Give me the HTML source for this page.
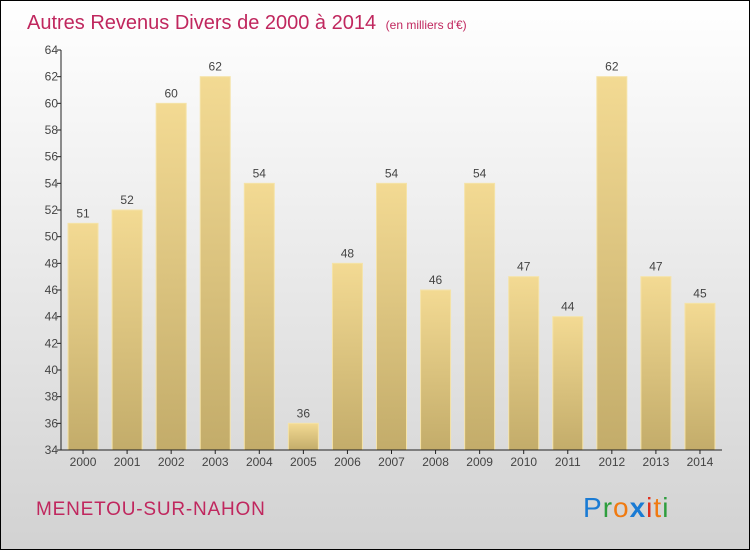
<!DOCTYPE html>
<html><head><meta charset="utf-8"><style>
body{margin:0}
#wrap{width:748px;height:548px;border:1px solid #000;background:linear-gradient(#ffffff,#f2f2f2 30%,#d2d2d2);position:relative;overflow:hidden;font-family:"Liberation Sans",sans-serif}
</style></head><body>
<div id="wrap">
<svg id="chart" width="748" height="548">
<defs>
<linearGradient id="bg" x1="0" y1="0" x2="0" y2="1"><stop offset="0" stop-color="#f3da93"/><stop offset="1" stop-color="#c3ac6a"/></linearGradient>
</defs>
<text x="26" y="28" font-size="20" fill="#c0275e">Autres Revenus Divers de 2000 à 2014 <tspan font-size="12" dx="4">(en milliers d'€)</tspan></text>
<text x="35" y="514" font-size="19" letter-spacing="0.8" fill="#c0275e">MENETOU-SUR-NAHON</text>
<g font-size="28" font-family="'Liberation Sans',sans-serif">
<text x="582" y="516" letter-spacing="1"><tspan fill="#1a7bd4">P</tspan><tspan fill="#2e9e3e">r</tspan><tspan fill="#f07a10">o</tspan><tspan fill="#1a7bd4" font-weight="bold">x</tspan><tspan fill="#e03020">i</tspan><tspan fill="#f07a10">t</tspan><tspan fill="#2e9e3e">i</tspan></text>
</g>
<g id="plot"></g>
</svg>
</div>
<script>
const categories=["2000","2001","2002","2003","2004","2005","2006","2007","2008","2009","2010","2011","2012","2013","2014"];
const values=[51,52,60,62,54,36,48,54,46,54,47,44,62,47,45];
const yTicks=[34,36,38,40,42,44,46,48,50,52,54,56,58,60,62,64];
const X0=60,X1=721,Y0=449,Y1=49,ymin=34,ymax=64;
const band=(X1-X0)/categories.length;
const xc=i=>X0+band*(i+0.5);
const y=v=>Y0-(v-ymin)/(ymax-ymin)*(Y0-Y1);
const g=document.getElementById('plot');
const NS="http://www.w3.org/2000/svg";
function mk(t,a){const e=document.createElementNS(NS,t);for(const k in a)e.setAttribute(k,a[k]);g.appendChild(e);return e;}
values.forEach((v,i)=>{
 const r=mk('rect',{x:xc(i)-15,y:y(v),width:30,height:Y0-y(v),fill:'url(#bg)',stroke:'#f5e3a8','stroke-width':1});
 
 
 const t=mk('text',{x:xc(i),y:y(v)-6,'text-anchor':'middle','font-size':12,fill:'#444'});
 t.textContent=v;
 
 
 const c=mk('text',{x:xc(i),y:Y0+16,'text-anchor':'middle','font-size':12,fill:'#444'});
 c.textContent=categories[i];
 
 
 const tk=mk('line',{x1:xc(i),x2:xc(i),y1:Y0,y2:Y0+4,stroke:'#222'});
 
 
});
yTicks.forEach(v=>{
 const l=mk('line',{x1:X0-4,x2:X0,y1:y(v),y2:y(v),stroke:'#222'});
 
 
 const t=mk('text',{x:X0-3,y:y(v)+4,'text-anchor':'end','font-size':12,fill:'#444'});
 t.textContent=v;
 
 
});
const ya=mk('line',{x1:X0,x2:X0,y1:Y1,y2:Y0,stroke:'#222'});


const xa=mk('line',{x1:X0,x2:X1,y1:Y0,y2:Y0,stroke:'#222'});


</script>
</body></html>
